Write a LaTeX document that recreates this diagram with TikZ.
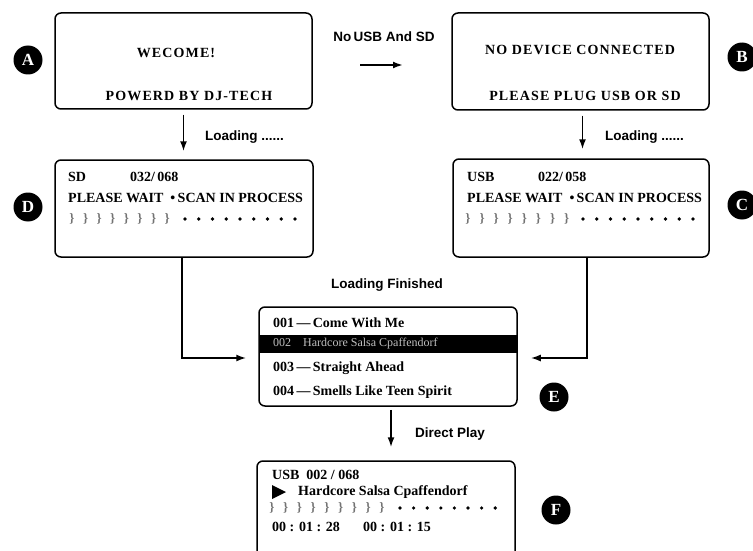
\documentclass[tikz,border=0pt]{standalone}
\usepackage{fontspec}
\setmainfont{Liberation Serif}
\newfontfamily\lblfont{Liberation Sans}
\newfontfamily\widefont[LetterSpace=8]{Liberation Serif}
\usetikzlibrary{arrows.meta}
\begin{document}
\begin{tikzpicture}[x=1pt,y=-1pt,
  screen/.style={draw, line width=1.5pt, rounded corners=6pt, inner sep=0pt},
  badge/.style={circle, fill=black, minimum size=29pt, inner sep=0pt, text=white,
    font=\bfseries\fontsize{17}{17}\selectfont},
  lbl/.style={font=\lblfont\bfseries\fontsize{13.5}{15}\selectfont, inner sep=0pt},
  arr/.style={line width=1.7pt, -{Latex[length=10pt,width=7pt]}},
  big/.style={font=\widefont\bfseries\fontsize{14}{16}\selectfont, inner sep=0pt},
  txt/.style={font=\bfseries\fontsize{14}{16}\selectfont, inner sep=0pt, anchor=west},
  tick/.style={font=\bfseries\fontsize{13}{13}\selectfont, text=black!55, inner sep=0pt},
  dotm/.style={fill=black}
]
\useasboundingbox (0,0) rectangle (753,551);
\clip (0,0) rectangle (753,551);

% screens
\node[screen, minimum width=257pt, minimum height=96pt] (boxA) at (183.5,61) {};
\node[screen, minimum width=257pt, minimum height=97pt] (boxB) at (580.5,61.5) {};
\node[screen, minimum width=258pt, minimum height=97pt] (boxD) at (184,208.5) {};
\node[screen, minimum width=256pt, minimum height=98pt] (boxC) at (581,208) {};
\fill[black] (259,335) rectangle (517,353);
\node[screen, minimum width=258pt, minimum height=99pt] (boxE) at (388,356.5) {};
\node[screen, minimum width=258pt, minimum height=130pt] (boxF) at (386,526) {};

% screen A
\node[big] (a1) at (176,53) {WECOME!};
\node[big] (a2) at (189,96) {POWERD BY DJ-TECH};
% screen B
\node[big] (b1) at (580,50) {NO DEVICE CONNECTED};
\node[big] (b2) at (585,96) {PLEASE PLUG USB OR SD};

% screen D
\node[txt] (d1) at (68,177) {SD};
\node[txt] (d2) at (130,177) {032/\,068};
\node[txt] (d3) at (68,198) {PLEASE WAIT\enspace•\,SCAN IN PROCESS};
\foreach \i in {0,...,7} \node[tick] (dm\i) at (72+\i*13.6,219) {\}};
\foreach \i in {0,...,8} \fill[dotm] (185+\i*13.75,219) circle (1.8);

% screen C
\node[txt] (c1) at (467,177) {USB};
\node[txt] (c2) at (538,177) {022/\,058};
\node[txt] (c3) at (467,198) {PLEASE WAIT\enspace•\,SCAN IN PROCESS};
\foreach \i in {0,...,7} \node[tick] (cm\i) at (468+\i*14.1,219) {\}};
\foreach \i in {0,...,8} \fill[dotm] (583+\i*13.75,219) circle (1.8);

% screen E
\node[txt] (e1) at (273,323) {001\,—\,Come With Me};
\node[font=\fontsize{12}{14}\selectfont, text=black!25, inner sep=0pt, anchor=west] (e2) at (273,344) {002\quad Hardcore Salsa Cpaffendorf};
\node[txt] (e3) at (273,368) {003\,—\,Straight Ahead};
\node[txt] (e4) at (273,392) {004\,—\,Smells Like Teen Spirit};

% screen F
\node[txt] (f1) at (272,475) {USB\enspace 002 / 068};
\fill[black] (272,485) -- (286,492) -- (272,499) -- cycle;
\node[txt] (f2) at (298,492) {Hardcore Salsa Cpaffendorf};
\foreach \i in {0,...,8} \node[tick] (fm\i) at (272+\i*13.75,508) {\}};
\foreach \i in {0,...,7} \fill[dotm] (400+\i*13.6,508) circle (1.8);
\node[txt] (f3) at (272,527) {00 : 01 : 28};
\node[txt] (f4) at (363,527) {00 : 01 : 15};

% badges
\node[badge] (bA) at (28,60) {A};
\node[badge] (bD) at (28,207) {D};
\node[badge] (bB) at (742,57) {B};
\node[badge] (bC) at (742,205) {C};
\node[badge] (bE) at (554,397) {E};
\node[badge] (bF) at (556,510) {F};

% labels
\node[lbl] (l1) at (384,37) {No\,USB And SD};
\node[lbl, anchor=west] (l2) at (205,137) {Loading ......};
\node[lbl, anchor=west] (l3) at (605,137) {Loading ......};
\node[lbl] (l4) at (387,285) {Loading Finished};
\node[lbl] (l5) at (450,434) {Direct Play};

% connectors
\coordinate (h1) at (360,65);
\coordinate (h2) at (403,65);
\draw[arr, line width=2.2pt] (h1) -- (h2);
\draw[arr] ([yshift=-5pt]boxA.south) -- ([yshift=8pt]boxA.south |- boxD.north);
\draw[arr] ([xshift=2pt,yshift=-5pt]boxB.south) -- ([xshift=2pt,yshift=9pt]boxB.south |- boxC.north);
\draw[arr] ([xshift=-2pt]boxD.south) |- ([xshift=-12pt,yshift=-1.5pt]boxE.west);
\draw[arr] ([xshift=6pt]boxC.south) |- ([xshift=13pt,yshift=-1.5pt]boxE.east);
\draw[arr] ([xshift=3pt,yshift=-3pt]boxE.south) -- ([xshift=3pt,yshift=13pt]boxE.south |- boxF.north);
\end{tikzpicture}
\end{document}
